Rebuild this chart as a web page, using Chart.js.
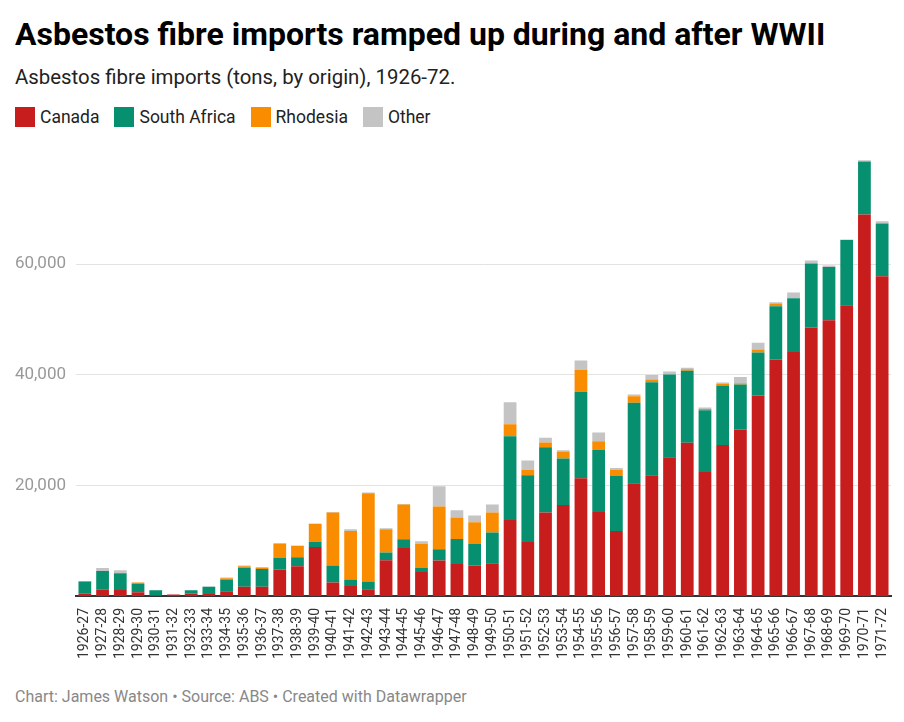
<!DOCTYPE html>
<html>
<head>
<meta charset="utf-8">
<script src="https://cdn.jsdelivr.net/npm/chart.js@4"></script>
<style>
  body { margin: 0; background: #fff; font-family: Roboto, sans-serif; }
  .wrap { position: relative; width: 904px; height: 722px; }
  h1 { position: absolute; left: 15px; top: 15px; margin: 0; font-size: 32px; line-height: 38px; font-weight: 700; color: #000; }
  .sub { position: absolute; left: 15px; top: 65px; font-size: 20.4px; color: #222; }
  .legend { position: absolute; left: 15px; top: 107px; font-size: 17.5px; color: #222; display: flex; }
  .legend span { display: flex; align-items: center; margin-right: 15px; }
  .legend i { display: inline-block; width: 20px; height: 20px; margin-right: 5px; }
  .foot { position: absolute; left: 15px; top: 687px; font-size: 16px; color: #888; }
  .chartbox { position: absolute; left: 0; top: 140px; width: 904px; height: 520px; }
</style>
</head>
<body>
<div class="wrap">
  <h1>Asbestos fibre imports ramped up during and after WWII</h1>
  <div class="sub">Asbestos fibre imports (tons, by origin), 1926-72.</div>
  <div class="legend" id="legend"></div>
  <div class="chartbox"><canvas id="myChart"></canvas></div>
  <div class="foot">Chart: James Watson • Source: ABS • Created with Datawrapper</div>
</div>
<script>
// financial years
const years = ['1926-27','1927-28','1928-29','1929-30','1930-31','1931-32','1932-33','1933-34','1934-35','1935-36',
  '1936-37','1937-38','1938-39','1939-40','1940-41','1941-42','1942-43','1943-44','1944-45','1945-46',
  '1946-47','1947-48','1948-49','1949-50','1950-51','1951-52','1952-53','1953-54','1954-55','1955-56',
  '1956-57','1957-58','1958-59','1959-60','1960-61','1961-62','1962-63','1963-64','1964-65','1965-66',
  '1966-67','1967-68','1968-69','1969-70','1970-71','1971-72'];

// tons
const canada = [400,1150,1100,700,50,250,450,350,850,1650,
  1650,4800,5400,8850,2450,1800,1200,6450,8700,4350,
  6400,5800,5500,5900,13750,9750,15100,16450,21300,15200,
  11750,20400,21850,25100,27700,22400,27300,30100,36250,42750,
  44100,48550,49850,52550,69000,57800];
const southAfrica = [2200,3370,3000,1450,1000,0,600,1300,2150,3400,
  3250,2050,1600,950,3050,1200,1400,1400,1550,700,
  2050,4500,3900,5600,15150,12100,11800,8400,15650,11200,
  9950,14550,16800,14950,13050,11200,10750,8150,7800,9650,
  9750,11550,9650,11800,9550,9550];
const rhodesia = [0,0,0,300,0,0,0,0,200,350,
  250,2550,2050,3200,9600,8750,16000,4200,6300,4350,
  7750,3900,3950,3600,2150,1000,850,1300,3900,1600,
  1100,1150,500,0,250,200,300,200,500,500,
  0,0,0,0,0,0];
const other = [100,540,550,0,0,0,0,80,150,100,
  50,200,100,100,100,300,100,200,100,500,
  3650,1300,1200,1450,4000,1650,850,200,1750,1550,
  350,350,800,550,250,300,250,1150,1250,200,
  1050,550,250,100,350,400];

const seriesNames = ['Canada','South Africa','Rhodesia','Other'];
const colors = ['#c71e1d','#06906f','#fa8c00','#c4c4c4'];
const yTicks = [20000,40000,60000];

let lg = document.getElementById('legend');
seriesNames.forEach((n,i)=>{
    lg.innerHTML += '<span><i style="background:'+colors[i]+'"></i>'+n+'</span>';
});

const ctx = document.getElementById('myChart');
const myChart = new Chart(ctx, {
    type: 'bar',
    data: {
        labels: years,
        datasets: [canada, southAfrica, rhodesia, other].map((d,i)=>({
            label: seriesNames[i],
            data: d,
            backgroundColor: colors[i],
            borderWidth: 0,
            barPercentage: 0.72,
            categoryPercentage: 1
        }))
    },
    options: {
        responsive: true,
        maintainAspectRatio: false,
        animation: false,
        layout: { padding: { top: 7, right: 13, left: 0, bottom: 0 } },
        plugins: { legend: { display: false }, tooltip: { enabled: false } },
        scales: {
            x: {
                stacked: true,
                grid: { display: false },
                border: { color: '#333', width: 2 },
                ticks: {
                    maxRotation: 90, minRotation: 90, autoSkip: false,
                    color: '#333', font: { family: 'Roboto', size: 14 }, padding: 4
                },
                afterFit: (s) => { s.height = 64; }
            },
            y: {
                stacked: true,
                min: 0, max: 78800,
                afterBuildTicks: (s) => { s.ticks = yTicks.map(v => ({ value: v })); },
                grid: { color: '#e3e3e3', drawTicks: false },
                border: { display: false },
                ticks: {
                    color: '#999', font: { family: 'Roboto', size: 17 }, padding: 10,
                    callback: (v) => v.toLocaleString('en-US')
                },
                afterFit: (s) => { s.width = 76; }
            }
        }
    }
});
</script>
</body>
</html>
